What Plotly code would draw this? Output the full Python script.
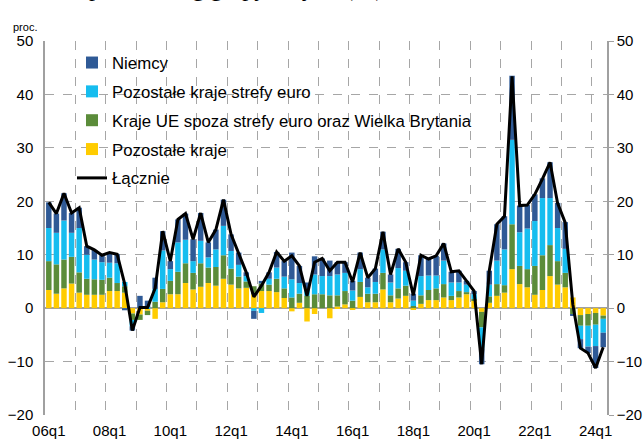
import plotly.graph_objects as go

# kwartały 2006q1 - 2024q2
years = list(range(2006, 2025))
quarters = [f"{str(y)[2:]}q{q}" for y in years for q in range(1, 5)][:74]

# wkłady (pkt proc.)
pozostale_kraje = [3.4, 2.7, 3.7, 4.6, 2.9, 2.5, 2.5, 2.5, 3.2, 3.2,
                   2.9, -1.0, -1.2, -0.5, -2.0, 1.1, 2.6, 2.6, 4.7, 3.5,
                   4.0, 4.7, 4.2, 5.5, 4.4, 3.7, 3.8, 2.6, 3.2, 3.2,
                   3.0, 1.9, -0.6, 1.0, -2.5, -1.1, 0.0, -1.9, 0.3, 0.7,
                   -0.2, 2.1, 1.1, 1.1, 3.5, 1.1, 1.8, 2.3, -0.3, 0.8,
                   1.5, 1.5, 2.0, 1.5, 2.0, 2.6, 1.4, -0.7, 1.0, 2.3,
                   2.9, 7.3, 4.5, 3.9, 2.5, 3.4, 6.0, 4.4, 3.9, 2.0,
                   -1.3, -1.1, -0.9, -1.4]
kraje_ue = [5.4, 5.5, 5.4, 5.0, 3.8, 3.0, 2.9, 2.8, 2.5, 1.5,
            1.2, -1.2, -1.0, -0.8, 1.2, 2.5, 2.5, 4.2, 3.7, 3.1,
            4.4, 2.9, 3.5, 4.4, 3.0, 2.2, 1.2, 1.5, 1.4, 1.2,
            2.5, 1.8, 2.0, 1.7, 2.3, 2.6, 2.6, 2.4, 2.1, 2.5,
            1.4, 2.8, 1.6, 1.6, 3.1, 1.3, 1.9, 1.9, 0.4, 1.6,
            1.9, 2.2, 2.5, 0.8, 1.2, 0.4, 0.3, -2.9, 1.2, 2.2,
            1.4, 8.4, 3.4, 3.4, 5.4, 6.5, 5.8, 4.4, 2.7, -1.1,
            -2.0, -2.2, -2.2, -0.6]
strefa_euro = [6.2, 5.9, 7.3, 4.5, 8.3, 4.5, 3.7, 3.3, 2.8, 3.7,
               0.8, -1.2, 0.0, 0.2, 2.4, 7.2, 2.2, 5.5, 4.4, 2.2,
               4.2, 1.9, 3.3, 5.5, 3.3, 2.2, 1.0, -0.5, -0.9, 1.1,
               2.1, 2.2, 3.4, 2.0, 1.2, 3.7, 3.4, 3.6, 3.9, 3.4,
               1.9, 2.4, 1.2, 2.2, 4.4, 2.4, 3.8, 2.8, 1.0, 3.6,
               2.7, 2.4, 4.4, 2.5, 1.6, 1.4, 0.9, -4.0, 2.2, 4.4,
               6.7, 15.8, 6.3, 7.6, 8.4, 10.7, 8.8, 6.2, 4.5, -0.1,
               -2.5, -3.9, -4.0, -2.6]
niemcy = [4.8, 3.6, 5.1, 3.7, 3.8, 1.6, 1.8, 1.3, 1.9, 1.7,
          -0.4, -0.8, 2.3, 1.2, 2.1, 3.6, 1.5, 4.3, 4.9, 4.1,
          5.2, 2.8, 3.7, 4.9, 3.1, 2.3, 0.7, -1.5, 0.5, 1.2,
          2.9, 2.9, 5.0, 3.2, 1.3, 3.4, 3.3, 2.9, 2.3, 2.0,
          1.8, 3.1, 1.8, 2.5, 3.3, 1.5, 3.6, 1.6, 1.3, 3.9,
          3.1, 3.7, 3.2, 2.0, 2.2, 0.7, 0.6, -2.9, 2.6, 6.8,
          6.2, 12.0, 5.0, 4.4, 5.0, 3.7, 6.7, 4.7, 5.0, -0.1,
          -1.7, -1.2, -4.1, -2.7]
lacznie = [19.8, 17.7, 21.5, 17.8, 18.8, 11.6, 10.9, 9.9, 10.4, 10.1,
           4.5, -4.2, 0.1, 0.1, 3.7, 14.4, 8.8, 16.6, 17.7, 12.9,
           17.8, 12.3, 14.7, 20.3, 13.8, 10.4, 6.7, 2.1, 4.2, 6.7,
           10.5, 8.8, 9.8, 7.9, 2.3, 8.6, 9.3, 7.0, 8.6, 8.6,
           4.9, 10.4, 5.7, 7.4, 14.3, 6.3, 11.1, 8.6, 2.4, 9.9,
           9.2, 9.8, 12.1, 6.8, 7.0, 5.1, 3.2, -10.5, 7.0, 15.7,
           17.2, 43.4, 19.2, 19.3, 21.3, 24.2, 27.3, 19.6, 16.0, 0.7,
           -7.5, -8.4, -11.2, -7.3]

x = list(range(len(quarters)))
label_idx = [i for i, q in enumerate(quarters) if q.endswith("q1") and int(q[:2]) % 2 == 0]
year_edges = [i - 0.5 for i, q in enumerate(quarters) if q.endswith("q1") and i > 0]

FONT = "Liberation Sans, Arial, sans-serif"
GRID = "#A6A6A6"

fig = go.Figure()

series = [
    ("Pozostałe kraje", pozostale_kraje, "#FFCC00", 4),
    ("Kraje UE spoza strefy euro oraz Wielka Brytania", kraje_ue, "#5B8C3A", 3),
    ("Pozostałe kraje strefy euro", strefa_euro, "#16BDEF", 2),
    ("Niemcy", niemcy, "#2F5A96", 1),
]
for name, vals, color, rank in series:
    fig.add_trace(go.Bar(
        x=x, y=vals, name=name,
        marker=dict(color=color, line=dict(width=0)),
        legendgroup=name, legendrank=rank,
    ))

fig.add_trace(go.Scatter(
    x=x, y=lacznie, name="Łącznie", mode="lines",
    line=dict(color="black", width=3),
    legendgroup="Łącznie", legendrank=5,
))

# niewidoczna seria dla prawej osi
fig.add_trace(go.Scatter(x=[x[0]], y=[0], yaxis="y2", showlegend=False,
                         mode="markers", marker=dict(opacity=0), hoverinfo="skip"))

fig.update_layout(
    width=643, height=439,
    margin=dict(l=45, r=36, t=41, b=24),
    barmode="relative",
    bargap=0.28,
    plot_bgcolor="white",
    paper_bgcolor="white",
    font=dict(family=FONT, size=15, color="black"),
    legend=dict(
        x=0.048, y=0.989, xanchor="left", yanchor="top",
        bgcolor="rgba(0,0,0,0)", traceorder="grouped",
        tracegroupgap=4, font=dict(size=16.8),
    ),
    xaxis=dict(
        range=[-0.5, len(x) - 0.5], automargin=False,
        tickmode="array", tickvals=label_idx,
        ticktext=[quarters[i] for i in label_idx],
        showgrid=False, zeroline=False, ticks="", ticklabelstandoff=5,
        showline=False,
        minor=dict(tickmode="array", tickvals=year_edges, showgrid=True,
                   gridcolor=GRID, griddash="dash", gridwidth=1, ticks=""),
    ),
    yaxis=dict(
        range=[-20, 50], dtick=10, automargin=False,
        showgrid=True, gridcolor=GRID, griddash="dash", gridwidth=1,
        zeroline=True, zerolinecolor="#A0A0A0", zerolinewidth=1.5,
        showline=True, linecolor="#A0A0A0", linewidth=1.5,
        ticks="", ticklabelstandoff=7,
    ),
    yaxis2=dict(
        range=[-20, 50], dtick=10, overlaying="y", side="right", automargin=False,
        showgrid=False, zeroline=False,
        showline=True, linecolor="#A0A0A0", linewidth=1.5,
        ticks="outside", ticklen=5, tickcolor="#A0A0A0",
    ),
    annotations=[
        dict(text="proc.", xref="paper", yref="paper", x=-0.06, y=1.016,
             xanchor="left", yanchor="bottom", showarrow=False,
             font=dict(size=11, family=FONT)),
        dict(text="Eksport według grupy krajów (r/r)", xref="paper", yref="paper",
             x=0.01, y=1.101, xanchor="left", yanchor="bottom", showarrow=False,
             font=dict(size=24, family="Liberation Serif, Times New Roman, serif")),
    ],
)

# bez domyślnego marginesu strony, żeby wykres zaczynał się w (0, 0)
fig.write_html("out.html", config={"displayModeBar": False},
               post_script="document.body.style.margin='0';")
